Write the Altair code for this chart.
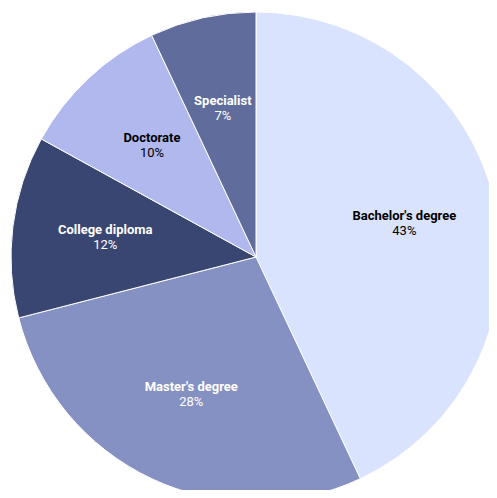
import altair as alt
import pandas as pd

categories = ["Bachelor's degree", "Master's degree", "College diploma", "Doctorate", "Specialist"]
shares = [43, 28, 12, 10, 7]
colors = ["#dae3fd", "#8691c3", "#3a4672", "#b0b8ee", "#606c9b"]
text_colors = ["#000000", "#ffffff", "#ffffff", "#000000", "#ffffff"]

df = pd.DataFrame({
    "cat": categories,
    "share": shares,
    "order": list(range(len(categories))),
    "pct": [f"{v}%" for v in shares],
    "tcolor": text_colors,
})

CX, CY, R = 248, 249, 245
LR = 152

base = alt.Chart(df).encode(
    theta=alt.Theta("share:Q", stack=True),
    order=alt.Order("order:Q"),
)

arcs = base.mark_arc(outerRadius=R, stroke="white", strokeWidth=1).encode(
    x=alt.value(CX), y=alt.value(CY),
    color=alt.Color("cat:N", scale=alt.Scale(domain=categories, range=colors), legend=None),
)

names = base.mark_text(radius=LR, dy=-8, font="Roboto", fontSize=13, fontWeight="bold").encode(
    x=alt.value(CX), y=alt.value(CY),
    text="cat:N",
    color=alt.Color("tcolor:N", scale=None),
)

pcts = base.mark_text(radius=LR, dy=7, font="Roboto", fontSize=13).encode(
    x=alt.value(CX), y=alt.value(CY),
    text="pct:N",
    color=alt.Color("tcolor:N", scale=None),
)

chart = alt.layer(arcs, names, pcts).properties(
    width=481, height=482, padding=0, autosize=alt.AutoSizeParams(type="none")
).configure_view(stroke=None)

chart.save("out.html", embed_options={"renderer": "svg", "actions": False})
